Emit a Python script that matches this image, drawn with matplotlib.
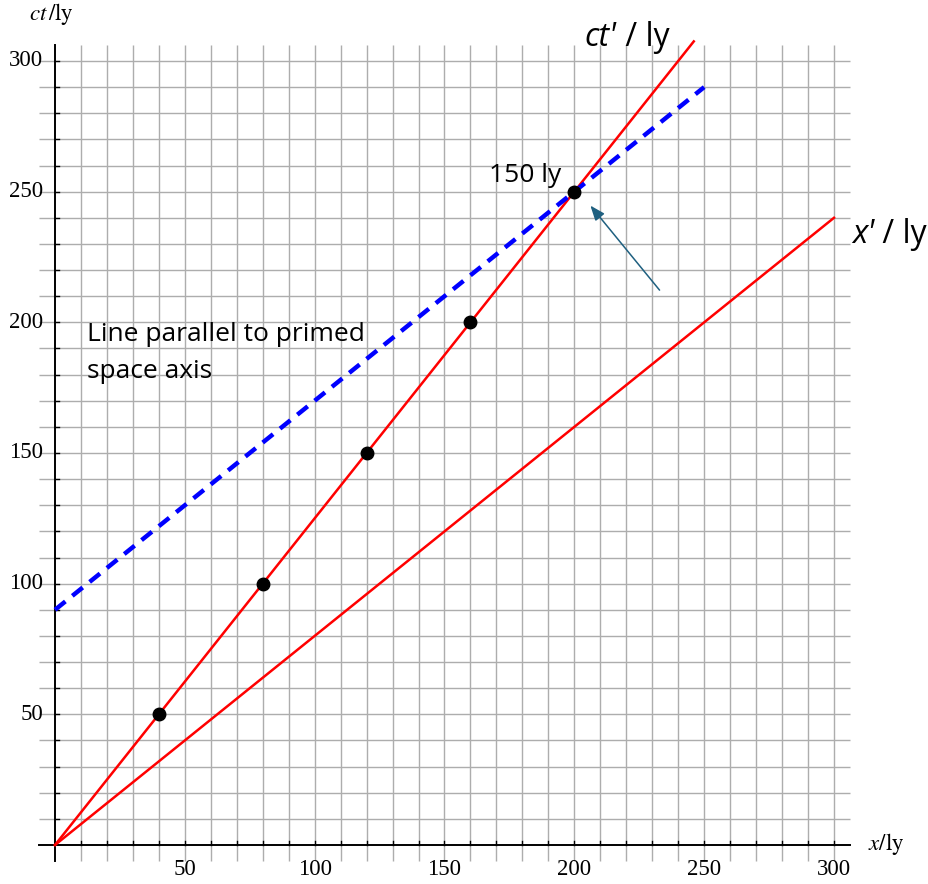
import matplotlib
matplotlib.use("Agg")
import matplotlib.pyplot as plt
import numpy as np

# ---- data ----
ct_prime_x = [0, 246]
ct_prime_y = [0, 307.5]
x_prime_x = [0, 300]
x_prime_y = [0, 240]
parallel_x = [0, 250]
parallel_y = [90, 290]
event_x = [40, 80, 120, 160, 200]
event_y = [50, 100, 150, 200, 250]
tick_values = [50, 100, 150, 200, 250, 300]
tick_labels = ["50", "100", "150", "200", "250", "300"]
grid_values = list(range(10, 301, 10))

W, H = 929, 884
fig = plt.figure(figsize=(W / 100, H / 100), dpi=100)
ax = fig.add_axes([0, 0, 1, 1])
sx = (834 - 55) / 300.0
sy = (845 - 61) / 300.0
ax.set_xlim(-55 / sx, (W - 55) / sx)
ax.set_ylim(-(H - 845) / sy, 845 / sy)
ax.axis("off")

gcol = "#adadad"
lo, hi = -6, 306
ax.vlines(grid_values, lo, hi, colors=gcol, lw=1.0, zorder=1)
ax.hlines(grid_values, lo, hi, colors=gcol, lw=1.0, zorder=1)

# axes lines
ax.plot([lo, hi], [0, 0], color="black", lw=1.4, zorder=2)
ax.plot([0, 0], [lo, hi], color="black", lw=1.4, zorder=2)
tl = 4 / sx
for g in grid_values:
    ax.plot([g, g], [0, tl], color="black", lw=1.0, zorder=2)
    ax.plot([0, tl], [g, g], color="black", lw=1.0, zorder=2)

serif = "Liberation Serif"
for v, lab in zip(tick_values, tick_labels):
    ax.text(v, -9.5, lab, ha="center", va="center", fontsize=16.5, family=serif)
    ax.text(-4.5, v, lab, ha="right", va="center", fontsize=16.5, family=serif)

ax.text(-10, 318, r"$ct\,/\mathrm{ly}$", ha="left", va="center", fontsize=16.5,
        math_fontfamily="stix")
ax.text(313, 0.5, r"$x/\mathrm{ly}$", ha="left", va="center", fontsize=16.5,
        math_fontfamily="stix")

# lines
ax.plot(ct_prime_x, ct_prime_y, color="#ff0000", lw=1.8, zorder=3)
ax.plot(x_prime_x, x_prime_y, color="#ff0000", lw=1.8, zorder=3)
ax.plot(parallel_x, parallel_y, color="#0000ff", lw=3.2, ls=(0, (3, 2)), zorder=3)
ax.plot(event_x, event_y, "o", color="black", ms=9, zorder=4)

# labels
sans = "Open Sans"
renderer = fig.canvas.get_renderer()


def two_part(x, y, italic, normal, size):
    t1 = ax.text(x, y, italic, fontsize=size, family=sans, style="italic",
                 ha="left", va="center")
    bb = t1.get_window_extent(renderer=renderer)
    x2 = ax.transData.inverted().transform((bb.x1, 0))[0]
    ax.text(x2, y, normal, fontsize=size, family=sans, ha="left", va="center")


two_part(204, 309, "ct'", " / ly", 23)
two_part(307, 233.5, "x'", " / ly", 23)
ax.text(167, 256, "150 ly", fontsize=19, family=sans, ha="left", va="center")
ax.text(12.5, 188.3, "Line parallel to primed\nspace axis", fontsize=19, family=sans,
        ha="left", va="center", linespacing=1.6)

ax.annotate("", xy=(205.5, 245.5), xytext=(233.5, 211.5),
            arrowprops=dict(arrowstyle="-|>,head_length=0.9,head_width=0.35",
                            color="#1f6080", lw=1.1), zorder=5)

fig.savefig("out.png", dpi=100, facecolor="white")
